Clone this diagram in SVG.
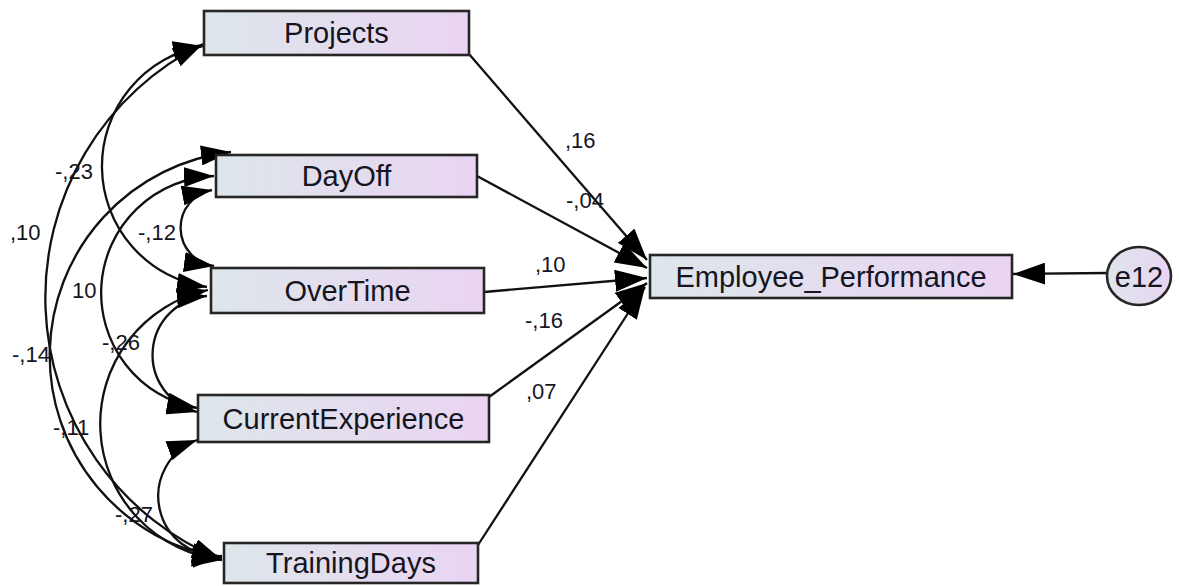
<svg xmlns="http://www.w3.org/2000/svg" width="1179" height="586" viewBox="0 0 1179 586">
  <defs>
    <linearGradient id="boxFill" x1="0" y1="0" x2="1" y2="0">
      <stop offset="0" stop-color="#dde6ea"/>
      <stop offset="1" stop-color="#ead4f3"/>
    </linearGradient>
    <marker id="head" viewBox="0 0 32 22" refX="32" refY="11" markerWidth="32" markerHeight="22" markerUnits="userSpaceOnUse" orient="auto-start-reverse">
      <path d="M0,0 L32,11 L0,22 z" fill="#000"/>
    </marker>
    <marker id="headSm" viewBox="0 0 30 20" refX="30" refY="10" markerWidth="30" markerHeight="20" markerUnits="userSpaceOnUse" orient="auto-start-reverse">
      <path d="M0,0 L30,10 L0,20 z" fill="#000"/>
    </marker>
  </defs>
  <style>
    .box { fill: url(#boxFill); stroke: #262626; stroke-width: 2.6; }
    .lbl { font-family: "Liberation Sans", Arial, sans-serif; font-size: 29px; fill: #15151f; text-anchor: middle; }
    .coef { font-family: "Liberation Sans", Arial, sans-serif; font-size: 22px; fill: #15151f; }
    .path { fill: none; stroke: #111; stroke-width: 2.3; marker-end: url(#head); }
    .cov { fill: none; stroke: #111; stroke-width: 2.3; marker-start: url(#headSm); marker-end: url(#headSm); }
  </style>

  <!-- connectors: regression paths and covariances -->
  <g id="connectors">
    <line class="path" x1="469" y1="54" x2="647" y2="260"/>
    <line class="path" x1="477" y1="176" x2="647" y2="268"/>
    <line class="path" x1="484" y1="292" x2="647" y2="278"/>
    <line class="path" x1="489" y1="397" x2="647" y2="283"/>
    <line class="path" x1="478" y1="545" x2="645" y2="287"/>
    <line class="path" x1="1107" y1="273" x2="1013" y2="274"/>

    <path class="cov" d="M203,46 A122,122 0 0 0 207,287"/>
    <path class="cov" d="M203,44 A283,283 0 0 0 222,560"/>
    <path class="cov" d="M212,190 A38.5,38.5 0 0 0 214,266"/>
    <path class="cov" d="M207,296 A59,59 0 0 0 197,412"/>
    <path class="cov" d="M197,440 A60,60 0 0 0 222,556"/>
    <path class="cov" d="M214,176 A117,117 0 0 0 197,408"/>
    <path class="cov" d="M231,152 A205,205 0 0 0 222,558"/>
    <path class="cov" d="M208,290 A137,137 0 0 0 222,560"/>

    <text class="coef" x="565" y="148">,16</text>
    <text class="coef" x="566" y="208">-,04</text>
    <text class="coef" x="535" y="272">,10</text>
    <text class="coef" x="525" y="328">-,16</text>
    <text class="coef" x="526" y="399">,07</text>
    <text class="coef" x="55" y="179">-,23</text>
    <text class="coef" x="10" y="240">,10</text>
    <text class="coef" x="138" y="240">-,12</text>
    <text class="coef" x="72" y="298">10</text>
    <text class="coef" x="102" y="350">-,26</text>
    <text class="coef" x="12" y="362">-,14</text>
    <text class="coef" x="53" y="435">-,11</text>
    <text class="coef" x="115" y="522">-,27</text>
  </g>

  <g id="projects">
    <rect class="box" x="204" y="11" width="265" height="44"/>
    <text class="lbl" x="336.5" y="43">Projects</text>
  </g>
  <g id="dayoff">
    <rect class="box" x="216" y="155" width="261" height="42"/>
    <text class="lbl" x="346.5" y="186">DayOff</text>
  </g>
  <g id="overtime">
    <rect class="box" x="211" y="268" width="273" height="45"/>
    <text class="lbl" x="347.5" y="301">OverTime</text>
  </g>
  <g id="currentexperience">
    <rect class="box" x="198" y="395" width="291" height="47"/>
    <text class="lbl" x="343.5" y="429">CurrentExperience</text>
  </g>
  <g id="trainingdays">
    <rect class="box" x="224" y="543" width="254" height="40"/>
    <text class="lbl" x="351" y="573">TrainingDays</text>
  </g>
  <g id="employee_performance">
    <rect class="box" x="650" y="255" width="362" height="43"/>
    <text class="lbl" x="831" y="287">Employee_Performance</text>
  </g>
  <g id="e12">
    <ellipse class="box" cx="1139" cy="276" rx="32" ry="29"/>
    <text class="lbl" x="1139" y="287">e12</text>
  </g>
</svg>
